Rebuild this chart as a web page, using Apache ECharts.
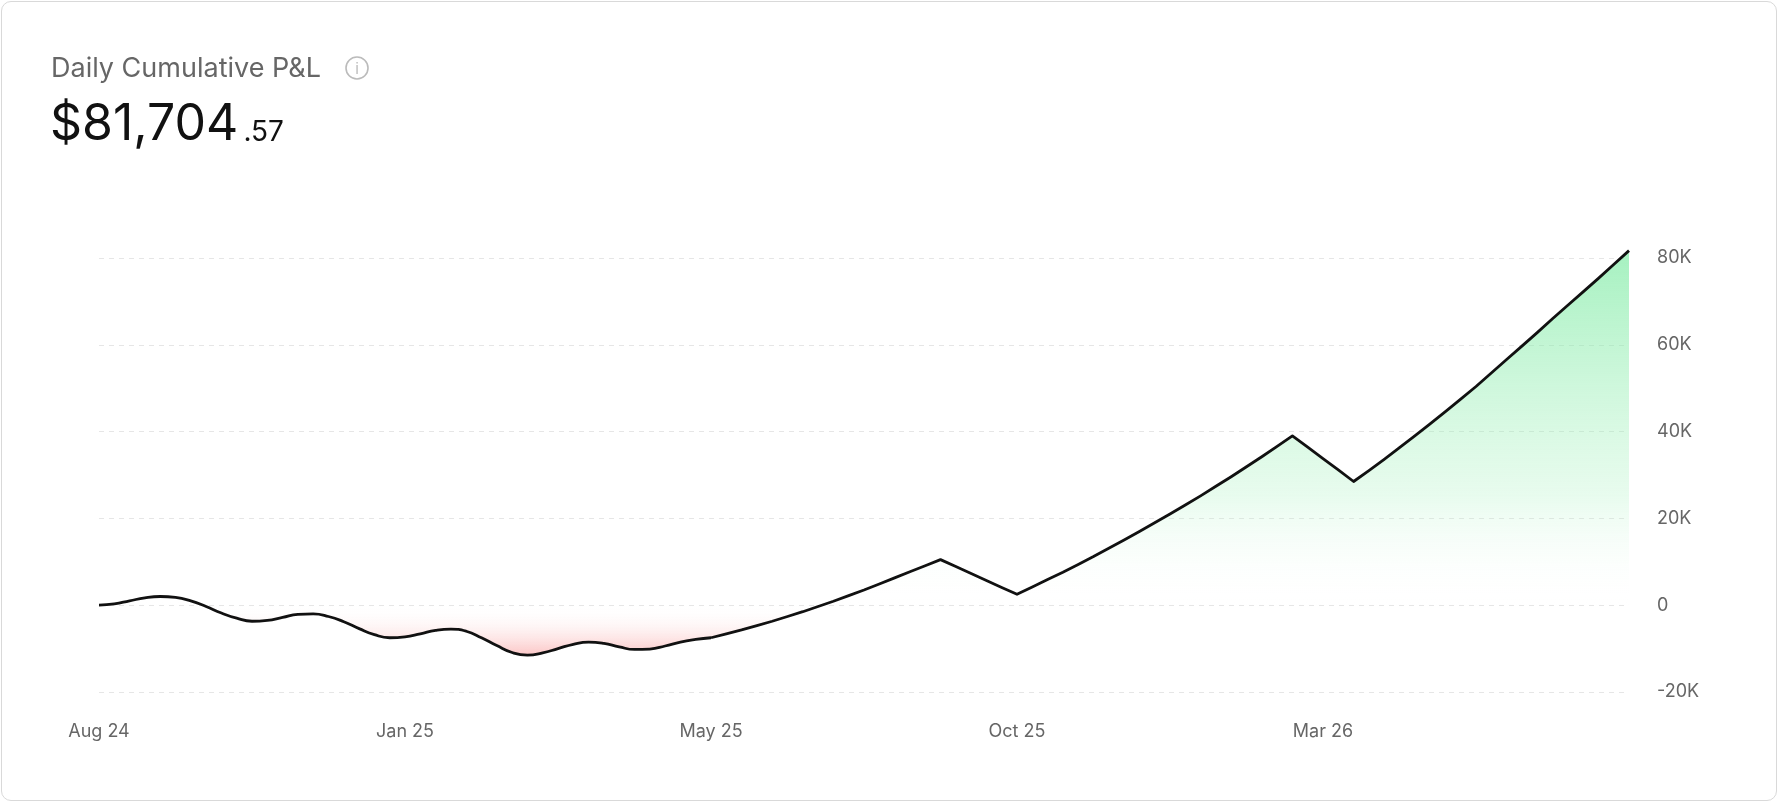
<!DOCTYPE html>
<html><head><meta charset="utf-8">
<script src="https://cdn.jsdelivr.net/npm/echarts@6/dist/echarts.min.js"></script>
<style>
html,body{margin:0;padding:0;background:#fff;}
#card{position:absolute;left:1px;top:1px;width:1776px;height:800px;border:1px solid #d9d9d9;border-radius:10px;box-sizing:border-box;}
#c{position:absolute;left:0;top:0;width:1780px;height:804px;}
</style></head><body>
<div id="card"></div><div id="c"></div>
<script>
const xTickLabels = ['Aug 24','Jan 25','May 25','Oct 25','Mar 26'];
const yTicks = [-20000, 0, 20000, 40000, 60000, 80000];
const pnlK = [
 0,0.3,1.0,1.7,2.0,1.8,1.0,-0.3,-1.8,-3.0,
 -3.7,-3.5,-2.8,-2.1,-2.0,-2.6,-3.8,-5.4,-6.8,-7.5,
 -7.3,-6.6,-5.8,-5.5,-6.0,-7.5,-9.3,-10.9,-11.5,-11.0,
 -10.0,-9.0,-8.5,-8.8,-9.6,-10.2,-10.1,-9.4,-8.5,-7.9,
 -7.5,-6.6,-5.7,-4.7,-3.7,-2.6,-1.5,-0.3,0.9,2.2,
 3.5,4.9,6.3,7.7,9.1,10.5,8.9,7.3,5.7,4.1,
 2.5,4.2,5.9,7.6,9.4,11.2,13.1,15.0,17.0,19.0,
 21.0,23.1,25.2,27.4,29.6,31.9,34.2,36.6,39.0,36.4,
 33.8,31.2,28.5,31.0,33.6,36.3,39.0,41.8,44.6,47.5,
 50.4,53.5,56.6,59.7,62.8,66.0,69.1,72.2,75.3,78.5,
 81.704
];
const splitIndex = 40;
const cats = pnlK.map((_, i) => String(i));
const values = pnlK.map(v => Math.round(v * 1000));
const wavy = values.map((v, i) => i <= splitIndex ? v : '-');
const trend = values.map((v, i) => i >= splitIndex ? v : '-');
const fill = {origin:0, color:{type:'linear', global:true, x:0, y:250, x2:0, y2:660,
  colorStops:[
    {offset:0, color:'rgba(120,234,160,0.95)'},
    {offset:0.6, color:'rgba(160,240,185,0.35)'},
    {offset:0.868, color:'rgba(255,255,255,0)'},
    {offset:1, color:'rgba(246,130,130,0.8)'}
  ]}};
const chart = echarts.init(document.getElementById('c'));
chart.setOption({
  animation:false,
  title:[{
    text:'Daily Cumulative P&L', left:46, top:50,
    textStyle:{fontFamily:'Inter',fontSize:27,fontWeight:400,color:'#666'}
  },{
    text:'{a|$81,704} {b|.57}', left:45, top:95,
    textStyle:{rich:{
      a:{fontFamily:'Inter',fontSize:50,color:'#111',fontWeight:400},
      b:{fontFamily:'Inter',fontSize:28,color:'#111',fontWeight:400,padding:[16,0,0,0]}
    }}
  }],
  graphic:[
    {type:'circle',shape:{cx:357,cy:68,r:11},style:{fill:'none',stroke:'#bbb',lineWidth:1.6}},
    {type:'text',style:{x:357,y:69,text:'i',fill:'#bbb',font:'15px Inter',align:'center',verticalAlign:'middle'}}
  ],
  grid:{left:99,right:151,top:258,bottom:112,containLabel:false},
  xAxis:{
    type:'category', data:cats, boundaryGap:false,
    axisLine:{show:false}, axisTick:{show:false},
    axisLabel:{interval:19, margin:31, color:'#666', fontFamily:'Inter', fontSize:18,
      formatter:(v,i)=> xTickLabels[Math.round(i/20)] || ''}
  },
  yAxis:{
    type:'value', position:'right', min:-20000, max:80000, interval:20000,
    axisLabel:{color:'#666', fontFamily:'Inter', fontSize:18, margin:28,
      formatter:v => v === 0 ? '0' : (v/1000) + 'K'},
    splitLine:{lineStyle:{type:[5,5], color:'#e6e6e6'}}
  },
  series:[{
    type:'line', data:wavy, symbol:'none', smooth:0.5, clip:false,
    lineStyle:{color:'#111', width:2.8}, areaStyle:fill
  },{
    type:'line', data:trend, symbol:'none', smooth:false, clip:false,
    lineStyle:{color:'#111', width:2.8, join:'round'}, areaStyle:fill
  }]
});
</script></body></html>
